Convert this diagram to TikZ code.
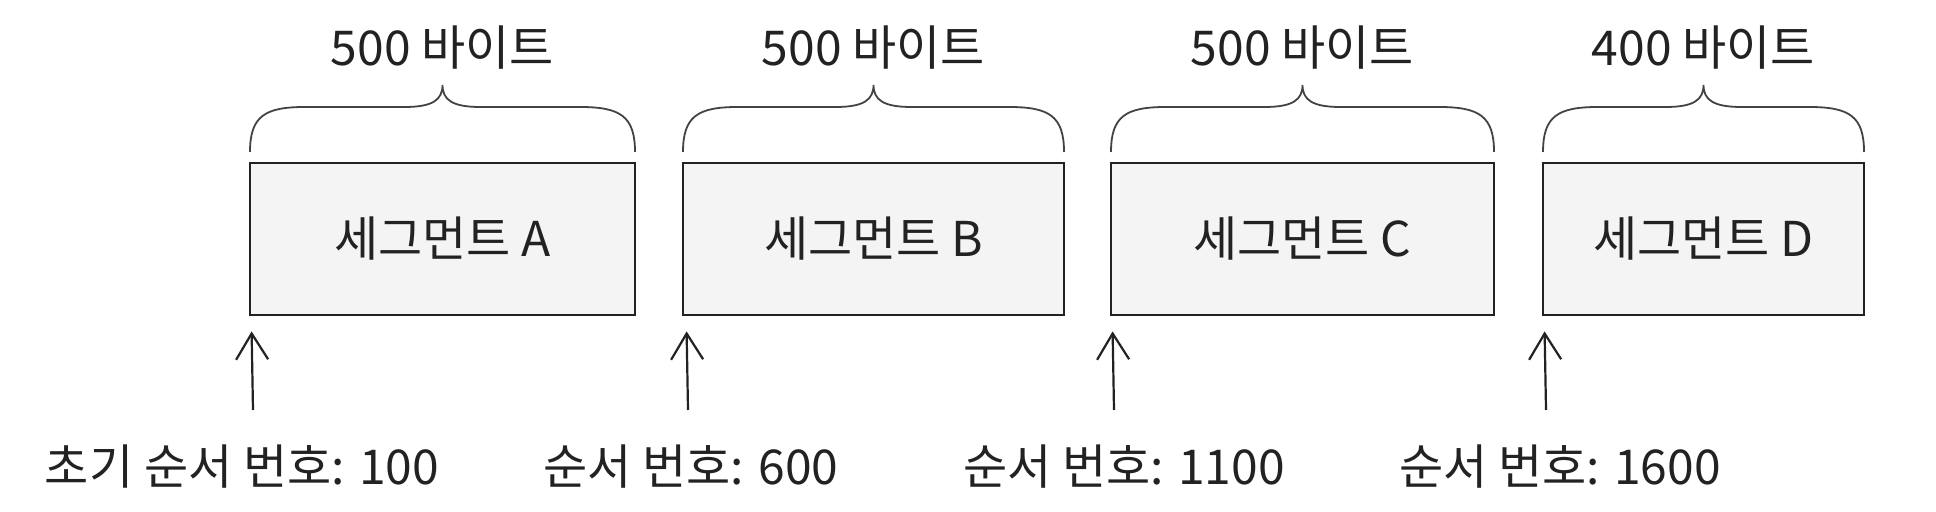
\documentclass[tikz,border=0pt]{standalone}
\usepackage{fontspec}
\setmainfont{Noto Sans CJK KR}
\usetikzlibrary{arrows.meta,calc}
\definecolor{ink}{HTML}{222222}
\definecolor{boxfill}{HTML}{F4F4F4}
\tikzset{
  seg/.style={draw=ink, line width=1.4pt, fill=boxfill, inner sep=0pt, font=\fontsize{24}{28}\selectfont, text=ink},
  brc/.style={draw=ink!85, line width=0.9pt},
  brlabel/.style={font=\fontsize{24}{28}\selectfont, text=ink, inner sep=0pt},
  seqlabel/.style={font=\fontsize{24}{28}\selectfont, text=ink, inner sep=0pt},
  arr/.style={draw=ink, line width=1.1pt, -{Straight Barb[length=13pt,width=16pt,line width=1.1pt]}}
}
\begin{document}
\begin{tikzpicture}[x=0.5pt,y=-0.5pt]
\useasboundingbox (0,0) rectangle (1936,512);
\fill[white] (0,0) rectangle (1936,512);

% segments
\node[seg, minimum width=192.5pt, minimum height=76pt] (A) at (442.5,239) {세그먼트 A};
\node[seg, minimum width=190.5pt, minimum height=76pt] (B) at (873.5,239) {세그먼트 B};
\node[seg, minimum width=191.5pt, minimum height=76pt] (C) at (1302.5,239) {세그먼트 C};
\node[seg, minimum width=160.5pt, minimum height=76pt] (D) at (1703.5,239) {세그먼트 D};

% braces
\foreach \l/\r/\n/\t in {250/635/bA/500, 683/1064/bB/500, 1111/1494/bC/500, 1543/1864/bD/400}{
  \pgfmathsetmacro{\bm}{(\l+\r)/2}
  \draw[brc] (\l,152) .. controls (\l,116) and (\l+15,107) .. (\l+55,107)
    -- (\bm-38,107) .. controls (\bm-10,107) and (\bm,100) .. (\bm,85)
    .. controls (\bm,100) and (\bm+10,107) .. (\bm+38,107)
    -- (\r-55,107) .. controls (\r-15,107) and (\r,116) .. (\r,152);
  \node[brlabel] (\n) at (\bm,48) {\t\ 바이트};
}

% sequence labels
\node[seqlabel] (sA) at (242,467) {초기 순서 번호: 100};
\node[seqlabel] (sB) at (691,467) {순서 번호: 600};
\node[seqlabel] (sC) at (1124,467) {순서 번호: 1100};
\node[seqlabel] (sD) at (1560,467) {순서 번호: 1600};

% arrows
\coordinate (tA) at (253,410); \coordinate (hA) at ([xshift=1.5pt,yshift=-7.5pt]A.south west);
\coordinate (tB) at (688,410); \coordinate (hB) at ([xshift=2.5pt,yshift=-7.5pt]B.south west);
\coordinate (tC) at (1114,410); \coordinate (hC) at ([xshift=1.5pt,yshift=-7.5pt]C.south west);
\coordinate (tD) at (1546,410); \coordinate (hD) at ([xshift=1.5pt,yshift=-7.5pt]D.south west);
\draw[arr] (tA) -- (hA);
\draw[arr] (tB) -- (hB);
\draw[arr] (tC) -- (hC);
\draw[arr] (tD) -- (hD);
\end{tikzpicture}
\end{document}
